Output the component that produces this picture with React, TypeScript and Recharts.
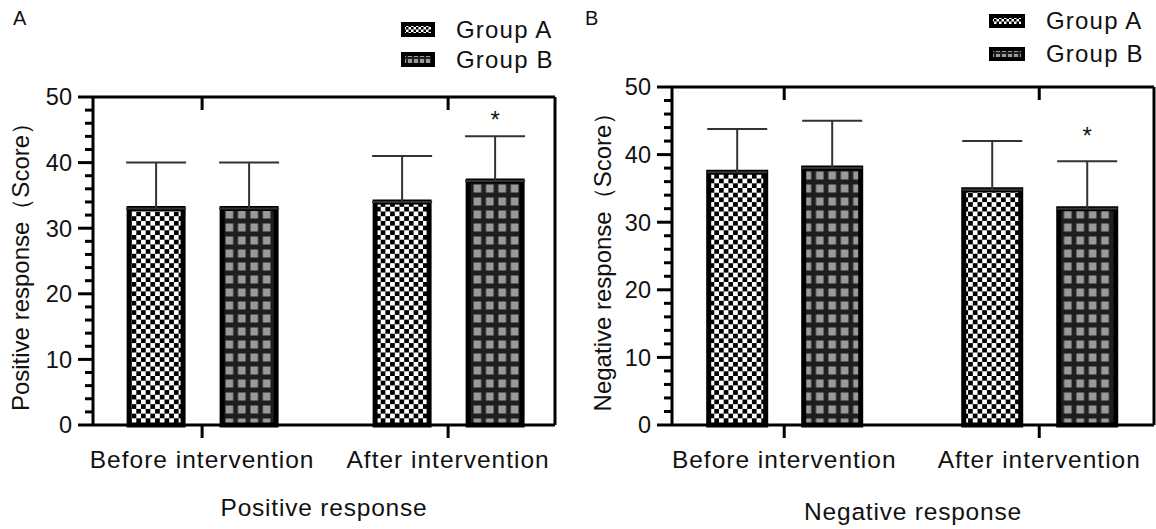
import React from 'react';
import { BarChart, Bar, XAxis, YAxis, ErrorBar, Legend, LabelList } from 'recharts';

const FONT = "'Liberation Sans', Arial, Helvetica, sans-serif";
const INK = '#111';

const categories = ['Before intervention', 'After intervention'];
const seriesNames = ['Group A', 'Group B'];
const xTicks = [0, 1];
const yTicks = [0, 2, 4, 6, 8, 10, 12, 14, 16, 18, 20, 22, 24, 26, 28, 30, 32, 34, 36, 38, 40, 42, 44, 46, 48, 50];

// Positive response (Score): mean and SD
const positiveA = [33, 34];
const positiveASd = [7, 7];
const positiveB = [33, 37.2];
const positiveBSd = [7, 6.8];
const positiveStar = [null, 47.4];

// Negative response (Score): mean and SD
const negativeA = [37.4, 34.8];
const negativeASd = [6.4, 7.2];
const negativeB = [38, 32];
const negativeBSd = [7, 7];
const negativeStar = [null, 43.7];

const buildRows = (a: number[], aSd: number[], b: number[], bSd: number[], star: (number | null)[]) =>
  categories.map((name, i) => ({
    x: i,
    name,
    a: a[i],
    aErr: [0, aSd[i]],
    b: b[i],
    bErr: [0, bSd[i]],
    star: star[i],
  }));

const patternFor: Record<string, string> = { a: 'checkA', b: 'gridB' };

// axes are 1px wide/tall so that recharts still draws them
const AXIS = 1;

const LeftTick = (props: any) => {
  const { x, y, payload } = props;
  const major = payload.value % 10 === 0;
  const len = major ? 15 : 8;
  return (
    <g>
      <line x1={x - len} x2={x} y1={y} y2={y} stroke="#000" strokeWidth={3} />
      {major && (
        <text x={x - 21} y={y} dy="0.36em" textAnchor="end" fontSize={23.5} fill={INK} fontFamily={FONT}>
          {payload.value}
        </text>
      )}
    </g>
  );
};

const RightTick = (props: any) => {
  const { x, y, payload } = props;
  const len = payload.value % 10 === 0 ? 13 : 7;
  return <line x1={x - len} x2={x} y1={y} y2={y} stroke="#000" strokeWidth={3} />;
};

const TopTick = (props: any) => {
  const { x, y } = props;
  return <line x1={x} x2={x} y1={y} y2={y + 13} stroke="#000" strokeWidth={3} />;
};

const BottomTick = (props: any) => {
  const { x, y, payload } = props;
  return (
    <g>
      <line x1={x} x2={x} y1={y} y2={y + 13} stroke="#000" strokeWidth={3} />
      <text x={x} y={y + 43} textAnchor="middle" fontSize={24.5} letterSpacing={1} fill={INK} fontFamily={FONT}>
        {categories[payload.value]}
      </text>
    </g>
  );
};

type LegendPos = { left: number; top: number; row: number; sw: number; sh: number };

const renderLegend = (pos: LegendPos) => (props: any) => (
  <div style={{ fontFamily: FONT, fontSize: 24, color: INK }}>
    {(props.payload || []).map((entry: any) => (
      <div key={entry.value} style={{ display: 'flex', alignItems: 'center', height: pos.row }}>
        <svg width={pos.sw} height={pos.sh}>
          <rect
            x={2}
            y={2}
            width={pos.sw - 4}
            height={pos.sh - 4}
            fill={`url(#${patternFor[entry.dataKey]}-sm)`}
            stroke="#000"
            strokeWidth={4}
          />
        </svg>
        <span style={{ marginLeft: 21, letterSpacing: 1.2, lineHeight: 1 }}>{entry.value}</span>
      </div>
    ))}
  </div>
);

type PanelProps = {
  letter: string;
  yTitle: string;
  xTitle: string;
  rows: any[];
  barValues: number[];
  margin: { top: number; right: number; bottom: number; left: number };
  domain: [number, number];
  barSize: number;
  barGap: number;
  legendPos: LegendPos;
  yTitleGap: number;
  xTitleGap: number;
  letterLeft: number;
};

function Panel({
  letter,
  yTitle,
  xTitle,
  rows,
  barValues,
  margin,
  domain,
  barSize,
  barGap,
  legendPos,
  yTitleGap,
  xTitleGap,
  letterLeft,
}: PanelProps) {
  const starLabel = (p: any) => {
    const vb = p.viewBox || p;
    const level = p.value;
    if (level == null || !vb) return null;
    const base = vb.y + vb.height;
    const perUnit = vb.height / barValues[p.index];
    const cy = base - level * perUnit;
    return (
      <text x={vb.x + vb.width / 2} y={cy + 14} textAnchor="middle" fontSize={24} fill={INK} fontFamily={FONT}>
        *
      </text>
    );
  };

  // the plot frame edges in the picture; recharts margins leave room for the 1px axes
  const chartMargin = {
    top: margin.top - AXIS,
    right: margin.right - AXIS,
    bottom: margin.bottom - AXIS,
    left: margin.left - AXIS,
  };

  return (
    <div style={{ position: 'relative', width: 578, height: 529 }}>
      <BarChart width={578} height={529} data={rows} margin={chartMargin} barSize={barSize} barGap={barGap}>
        <XAxis
          xAxisId="bottom"
          type="number"
          dataKey="x"
          domain={domain}
          allowDataOverflow
          ticks={xTicks}
          interval={0}
          height={AXIS}
          tickSize={0}
          tickMargin={0}
          tickLine={false}
          axisLine={{ stroke: '#000', strokeWidth: 3 }}
          tick={BottomTick}
          label={(p: any) => {
            const vb = p.viewBox;
            return (
              <text
                x={vb.x + vb.width / 2}
                y={vb.y + xTitleGap}
                textAnchor="middle"
                fontSize={24.5}
                letterSpacing={0.8}
                fill={INK}
                fontFamily={FONT}
              >
                {xTitle}
              </text>
            );
          }}
        />
        <XAxis
          xAxisId="top"
          orientation="top"
          type="number"
          dataKey="x"
          domain={domain}
          allowDataOverflow
          ticks={xTicks}
          interval={0}
          height={AXIS}
          tickSize={0}
          tickMargin={0}
          tickLine={false}
          axisLine={{ stroke: '#000', strokeWidth: 3 }}
          tick={TopTick}
        />
        <YAxis
          yAxisId="left"
          domain={[0, 50]}
          ticks={yTicks}
          interval={0}
          width={AXIS}
          tickSize={0}
          tickMargin={0}
          tickLine={false}
          axisLine={{ stroke: '#000', strokeWidth: 3 }}
          tick={LeftTick}
          label={(p: any) => {
            const vb = p.viewBox;
            const cx = vb.x + vb.width - yTitleGap;
            const cy = vb.y + vb.height / 2;
            return (
              <text
                x={cx}
                y={cy}
                transform={`rotate(-90 ${cx} ${cy})`}
                textAnchor="middle"
                fontSize={24}
                fill={INK}
                fontFamily={FONT}
              >
                {yTitle}
              </text>
            );
          }}
        />
        <YAxis
          yAxisId="right"
          orientation="right"
          domain={[0, 50]}
          ticks={yTicks}
          interval={0}
          width={AXIS}
          tickSize={0}
          tickMargin={0}
          tickLine={false}
          axisLine={{ stroke: '#000', strokeWidth: 3 }}
          tick={RightTick}
        />
        <Legend
          layout="vertical"
          align="center"
          verticalAlign="middle"
          wrapperStyle={{ left: legendPos.left, top: legendPos.top, width: 'auto' }}
          content={renderLegend(legendPos)}
        />
        <Bar
          xAxisId="bottom"
          yAxisId="left"
          dataKey="a"
          name={seriesNames[0]}
          fill="url(#checkA)"
          stroke="#000"
          strokeWidth={5}
          isAnimationActive={false}
        >
          <ErrorBar dataKey="aErr" width={30} stroke="#333" strokeWidth={2} isAnimationActive={false} />
        </Bar>
        <Bar
          xAxisId="bottom"
          yAxisId="left"
          dataKey="b"
          name={seriesNames[1]}
          fill="url(#gridB)"
          stroke="#000"
          strokeWidth={5}
          isAnimationActive={false}
        >
          <ErrorBar dataKey="bErr" width={30} stroke="#333" strokeWidth={2} isAnimationActive={false} />
          <LabelList dataKey="star" content={starLabel} />
        </Bar>
      </BarChart>
      <div
        style={{
          position: 'absolute',
          left: letterLeft,
          top: 8,
          fontFamily: FONT,
          fontSize: 20,
          lineHeight: '20px',
          color: INK,
        }}
      >
        {letter}
      </div>
    </div>
  );
}

const positiveRows = buildRows(positiveA, positiveASd, positiveB, positiveBSd, positiveStar);
const negativeRows = buildRows(negativeA, negativeASd, negativeB, negativeBSd, negativeStar);

export default function App() {
  return (
    <div style={{ position: 'absolute', left: 0, top: 0, width: 1156, height: 529, background: '#fff' }}>
      <svg width={0} height={0} style={{ position: 'absolute' }}>
        <defs>
          <pattern id="checkA" width={9.4} height={9.4} patternUnits="userSpaceOnUse">
            <rect width={9.4} height={9.4} fill="#fff" />
            <rect width={4.7} height={4.7} fill="#000" />
            <rect x={4.7} y={4.7} width={4.7} height={4.7} fill="#000" />
          </pattern>
          <pattern id="gridB" width={12.4} height={13} patternUnits="userSpaceOnUse">
            <rect width={12.4} height={13} fill="#1e1e1e" />
            <rect x={2.4} y={2.5} width={7.6} height={8} fill="#9a9a9a" />
          </pattern>
          <pattern id="checkA-sm" width={5} height={5} patternUnits="userSpaceOnUse">
            <rect width={5} height={5} fill="#fff" />
            <rect width={2.5} height={2.5} fill="#000" />
            <rect x={2.5} y={2.5} width={2.5} height={2.5} fill="#000" />
          </pattern>
          <pattern id="gridB-sm" width={6} height={6} patternUnits="userSpaceOnUse">
            <rect width={6} height={6} fill="#1e1e1e" />
            <rect x={1} y={1} width={4} height={4} fill="#9a9a9a" />
          </pattern>
        </defs>
      </svg>
      <div style={{ position: 'absolute', left: 0, top: 0 }}>
        <Panel
          letter="A"
          yTitle="Positive response（Score）"
          xTitle="Positive response"
          rows={positiveRows}
          barValues={positiveB}
          margin={{ top: 97, right: 23, bottom: 104, left: 93 }}
          domain={[-0.4435, 1.4345]}
          barSize={54}
          barGap={39}
          legendPos={{ left: 401, top: 14.5, row: 30, sw: 34, sh: 15 }}
          yTitleGap={64}
          xTitleGap={91}
          letterLeft={13}
        />
      </div>
      <div style={{ position: 'absolute', left: 578, top: 0 }}>
        <Panel
          letter="B"
          yTitle="Negative response（Score）"
          xTitle="Negative response"
          rows={negativeRows}
          barValues={negativeB}
          margin={{ top: 87, right: 2, bottom: 104, left: 94 }}
          domain={[-0.44, 1.45]}
          barSize={57}
          barGap={38}
          legendPos={{ left: 411, top: 4.5, row: 33, sw: 36, sh: 14 }}
          yTitleGap={61}
          xTitleGap={95}
          letterLeft={7}
        />
      </div>
    </div>
  );
}
